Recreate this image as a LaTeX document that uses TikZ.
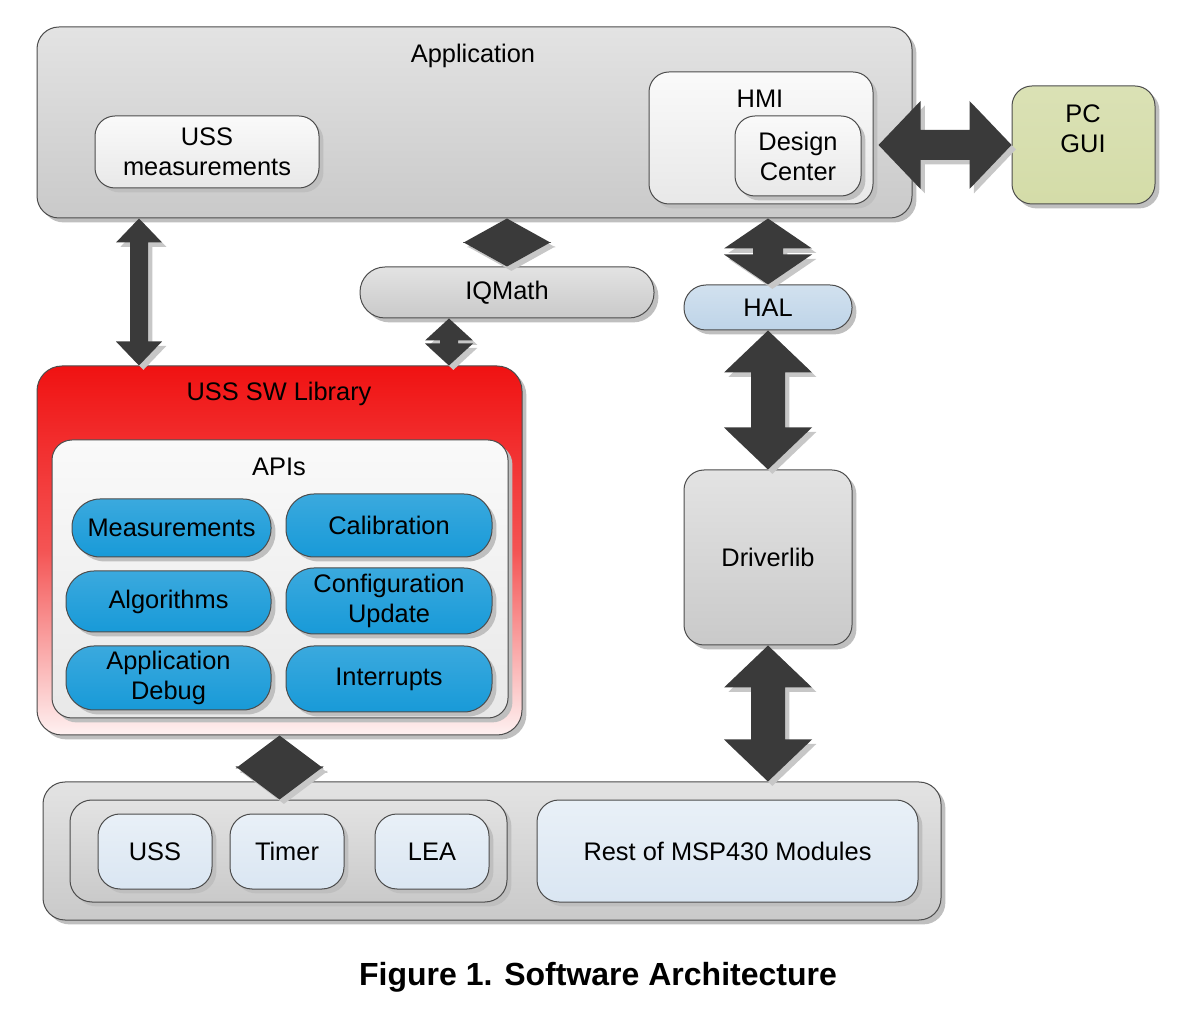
\documentclass[tikz,border=0pt]{standalone}
\usepackage{fontspec}
\setmainfont{Liberation Sans}
\usetikzlibrary{calc,shadows}

\definecolor{btnblue}{RGB}{24,154,216}
\definecolor{halblue}{RGB}{190,212,232}
\definecolor{modblue}{RGB}{218,230,242}
\definecolor{pcgreen}{RGB}{212,220,168}
\definecolor{libred}{RGB}{240,18,18}
\definecolor{arrowgray}{RGB}{58,58,58}

\newcommand{\boxfont}{\fontsize{12.7}{15}\selectfont}

\tikzset{
  box/.style={draw=black!70, line width=0.5pt, rounded corners=10pt, inner sep=0pt, align=center, font=\boxfont,
    drop shadow={shadow xshift=2.2pt, shadow yshift=-2.2pt, fill=black!25, opacity=1}},
  gbox/.style={box, top color=black!11, bottom color=black!21},
  lbox/.style={box, top color=black!2, bottom color=black!9},
  bbox/.style={box, rounded corners=11pt, top color=modblue!60, bottom color=modblue},
  btn/.style={box, rounded corners=14pt, top color=btnblue!85, bottom color=btnblue},
  ttl/.style={font=\boxfont, inner sep=0pt, align=center},
  blk/.style={fill=arrowgray, drop shadow={shadow xshift=2.2pt, shadow yshift=-2.2pt, fill=black!22, opacity=1}}
}

% block arrows: from, to, head half width, shaft half width, head length
\newcommand{\vlink}[5]{%
  \fill[blk] let \p1=(#1), \p2=(#2) in
    (\x1,\y1) -- (\x1+#3,\y1-#5) -- (\x1+#4,\y1-#5) -- (\x1+#4,\y2+#5) -- (\x1+#3,\y2+#5) -- (\x1,\y2)
    -- (\x1-#3,\y2+#5) -- (\x1-#4,\y2+#5) -- (\x1-#4,\y1-#5) -- (\x1-#3,\y1-#5) -- cycle;}
\newcommand{\hlink}[5]{%
  \fill[blk] let \p1=(#1), \p2=(#2) in
    (\x1,\y1) -- (\x1+#5,\y1+#3) -- (\x1+#5,\y1+#4) -- (\x2-#5,\y1+#4) -- (\x2-#5,\y1+#3) -- (\x2,\y1)
    -- (\x2-#5,\y1-#3) -- (\x2-#5,\y1-#4) -- (\x1+#5,\y1-#4) -- (\x1+#5,\y1-#3) -- cycle;}

\begin{document}
\begin{tikzpicture}[x=0.5pt,y=-0.5pt]
\useasboundingbox (0,0) rectangle (1200,1015);

\node[gbox, rounded corners=11pt, minimum width=437.5pt, minimum height=95.5pt] (app) at (474.5,122.5) {};
\node[ttl] (appt) at (473,56) {Application};
\node[lbox, minimum width=112pt, minimum height=36pt] (ussm) at (207,152) {USS\\measurements};
\node[lbox, minimum width=112pt, minimum height=66pt] (hmi) at (761,138) {};
\node[ttl] (hmit) at (760,99) {HMI};
\node[lbox, minimum width=63pt, minimum height=40pt] (dc) at (798,156) {Design\\Center};
\node[box, top color=pcgreen!85, bottom color=pcgreen, minimum width=71.5pt, minimum height=59pt] (pc) at (1083.5,145) {};
\node[ttl] (pct) at (1083,129) {PC\\GUI};

\node[gbox, rounded corners=12.5pt, minimum width=147pt, minimum height=25.5pt] (iqm) at (507,292.5) {IQMath};
\node[box, rounded corners=11pt, top color=halblue!70, bottom color=halblue, minimum width=84pt, minimum height=22.5pt] (hal) at (768,307.5) {HAL};
\node[gbox, minimum width=84pt, minimum height=87.5pt] (drv) at (768,557.5) {Driverlib};

\node[box, rounded corners=12.5pt, top color=libred, bottom color=libred!6, middle color=libred!72, minimum width=242.5pt, minimum height=184.5pt] (lib) at (279.5,550.5) {};
\node[ttl] (libt) at (279,394) {USS SW Library};
\node[lbox, minimum width=228pt, minimum height=139pt] (apis) at (280,579) {};
\node[ttl] (apist) at (279,467) {APIs};
\node[btn, minimum width=99.5pt, minimum height=29pt] (meas) at (171.5,528) {Measurements};
\node[btn, minimum width=103pt, minimum height=31.5pt] (cal) at (389,525.5) {Calibration};
\node[btn, minimum width=102.5pt, minimum height=30.5pt] (alg) at (168.5,601.5) {Algorithms};
\node[btn, minimum width=103pt, minimum height=33pt] (cfg) at (389,601) {Configuration\\Update};
\node[btn, minimum width=102.5pt, minimum height=32pt] (dbg) at (168.5,678) {Application\\Debug};
\node[btn, minimum width=103pt, minimum height=33pt] (intr) at (389,679) {Interrupts};

\node[gbox, rounded corners=11pt, minimum width=449pt, minimum height=69pt] (mcu) at (492,851) {};
\node[gbox, rounded corners=11pt, minimum width=218.5pt, minimum height=51pt] (grp) at (288.5,851) {};
\node[bbox, minimum width=57pt, minimum height=37.5pt] (uss) at (155,851.5) {USS};
\node[bbox, minimum width=57pt, minimum height=37.5pt] (tmr) at (287,851.5) {Timer};
\node[bbox, minimum width=57pt, minimum height=37.5pt] (lea) at (432,851.5) {LEA};
\node[bbox, minimum width=190.5pt, minimum height=51pt] (rest) at (727.5,851) {Rest of MSP430 Modules};

\node[font=\bfseries\fontsize{16}{19}\selectfont] (cap) at (598,977) {Figure 1. Software Architecture};

\coordinate (colA) at (139,0);
\coordinate (colB) at (449,0);
\vlink{app.south -| colA}{lib.north -| colA}{11.5pt}{4.5pt}{12pt}
\vlink{app.south -| iqm.north}{iqm.north}{22pt}{7.5pt}{12.2pt}
\vlink{iqm.south -| colB}{lib.north -| colB}{12pt}{4.5pt}{11pt}
\vlink{app.south -| hal.north}{hal.north}{22pt}{7.5pt}{15pt}
\vlink{hal.south}{drv.north}{22pt}{8.5pt}{21pt}
\vlink{drv.south}{drv.south |- mcu.north}{22pt}{8.5pt}{21pt}
\vlink{lib.south}{lib.south |- grp.north}{22pt}{7.5pt}{16.5pt}
\hlink{$(hmi.east |- pc.west)+(2.5pt,0)$}{pc.west}{22pt}{7.5pt}{21pt}
\end{tikzpicture}
\end{document}
